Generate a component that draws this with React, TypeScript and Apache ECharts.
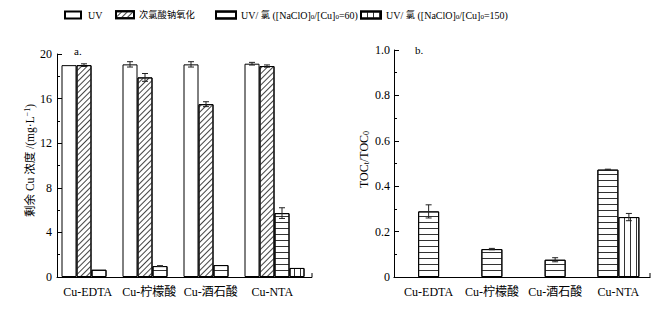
import React, { useEffect, useRef } from 'react';
import * as echarts from 'echarts';

const categories = ['Cu-EDTA', 'Cu-柠檬酸', 'Cu-酒石酸', 'Cu-NTA'];
const seriesNames = [
  'UV',
  '次氯酸钠氧化',
  'UV/ 氯 ([NaClO]0/[Cu]0=60)',
  'UV/ 氯 ([NaClO]0/[Cu]0=150)',
];
// panel a: residual Cu (mg/L)
const cuUV = [19.0, 19.07, 19.07, 19.13];
const cuUVErr = [0, 0.24, 0.24, 0.12];
const cuNaClO = [19.0, 17.9, 15.5, 18.92];
const cuNaClOErr = [0.12, 0.35, 0.22, 0.1];
const cuCl60 = [0.65, 0.98, 1.07, 5.73];
const cuCl60Err = [0, 0.04, 0, 0.48];
const cuCl150 = [null, null, null, 0.81];
const cuCl150Err = [0, 0, 0, 0];
// panel b: TOC_t/TOC_0
const toc60 = [0.289, 0.123, 0.076, 0.473];
const toc60Err = [0.029, 0.003, 0.009, 0.002];
const toc150 = [null, null, null, 0.264];
const toc150Err = [0, 0, 0, 0.016];
const cuTicks = [0, 4, 8, 12, 16, 20];
const tocTicks = [0, 0.2, 0.4, 0.6, 0.8, 1.0];

const FONT = '"Liberation Serif", "Times New Roman", "Noto Sans CJK SC", serif';
const INK = '#000';

const decals: any[] = [
  null,
  { symbol: 'rect', symbolSize: 1, color: '#444', backgroundColor: '#fff', dashArrayX: [1, 0], dashArrayY: [1, 2.2], rotation: -Math.PI / 4 },
  { symbol: 'rect', symbolSize: 1, color: '#333', backgroundColor: '#fff', dashArrayX: [1, 0], dashArrayY: [1, 4.4], rotation: 0 },
  { symbol: 'rect', symbolSize: 1, color: '#333', backgroundColor: '#fff', dashArrayX: [1, 4.3], dashArrayY: [1, 0], rotation: 0 },
];

function itemStyle(k: number) {
  const s: any = { color: '#fff', borderColor: INK, borderWidth: 1 };
  if (decals[k]) s.decal = decals[k];
  return s;
}

function errSeries(xi: number, yi: number, vals: (number | null)[], errs: number[], offset: number) {
  return {
    type: 'custom',
    xAxisIndex: xi,
    yAxisIndex: yi,
    silent: true,
    z: 5,
    encode: { x: 0, y: 1 },
    data: vals.map((v, i) => [i, v == null ? 0 : v, v == null ? 0 : errs[i]]),
    renderItem: (params: any, api: any) => {
      const i = api.value(0);
      const v = api.value(1);
      const e = api.value(2);
      if (!e) return { type: 'group', children: [] };
      const t = api.coord([i, v + e]);
      const b = api.coord([i, v - e]);
      const x = t[0] + offset;
      const style = { stroke: '#222', lineWidth: 1 };
      return {
        type: 'group',
        children: [
          { type: 'line', shape: { x1: x, y1: t[1], x2: x, y2: b[1] }, style },
          { type: 'line', shape: { x1: x - 3, y1: t[1], x2: x + 3, y2: t[1] }, style },
          { type: 'line', shape: { x1: x - 3, y1: b[1], x2: x + 3, y2: b[1] }, style },
        ],
      };
    },
  };
}

export default function App() {
  const ref = useRef<HTMLDivElement>(null);
  useEffect(() => {
    if (!ref.current) return;
    const chart = echarts.init(ref.current, null, { renderer: 'svg' });
    const richSub = {
      sub: { fontSize: 8, fontFamily: FONT, color: INK, padding: [5, 0, 0, 0] },
      sup: { fontSize: 8, fontFamily: FONT, color: INK, padding: [0, 0, 5, 0] },
    };
    const legendRich = {
      sub: { fontSize: 7, fontFamily: FONT, color: INK, padding: [4, 0, 0, 0] },
      cjk: { fontSize: 9.3, fontFamily: FONT, color: INK },
    };
    const catAxis = (gi: number, show = true) => ({
      type: 'category',
      gridIndex: gi,
      data: categories,
      show,
      axisLine: { lineStyle: { color: INK, width: 1 } },
      axisTick: { show: false },
      axisLabel: { color: INK, fontFamily: FONT, fontSize: 12, margin: 9, interval: 0 },
    });
    const valAxisCommon = {
      axisLine: { show: true, lineStyle: { color: INK, width: 1 } },
      axisTick: { show: true, inside: true, length: 5, lineStyle: { color: INK } },
      minorTick: { show: true, splitNumber: 2, length: 3, lineStyle: { color: INK } },
      splitLine: { show: false },
      minorSplitLine: { show: false },
    };
    // left panel: bars live on a hidden axis pair (grid 1) laid over the visible axes (grid 0)
    const leftBars = [cuUV, cuNaClO, cuCl60, cuCl150].map((d, k) => ({
      name: seriesNames[k],
      type: 'bar',
      xAxisIndex: 1,
      yAxisIndex: 1,
      data: d,
      barWidth: 15,
      barGap: '0%',
      itemStyle: itemStyle(k),
    }));
    const leftErrs = [
      errSeries(1, 1, cuUV, cuUVErr, -22.5),
      errSeries(1, 1, cuNaClO, cuNaClOErr, -7.5),
      errSeries(1, 1, cuCl60, cuCl60Err, 7.5),
      errSeries(1, 1, cuCl150 as any, cuCl150Err, 22.5),
    ];
    const single = (i: number) => toc150[i] == null;
    const tocSingle = toc60.map((v, i) => (single(i) ? v : null));
    const tocPair60 = toc60.map((v, i) => (single(i) ? null : v));
    const rightBars = [
      { name: seriesNames[2], type: 'bar', xAxisIndex: 2, yAxisIndex: 2, data: tocSingle, barWidth: 21, itemStyle: itemStyle(2) },
      { name: seriesNames[2], type: 'bar', xAxisIndex: 3, yAxisIndex: 2, data: tocPair60, barWidth: 21, barGap: '0%', itemStyle: itemStyle(2) },
      { name: seriesNames[3], type: 'bar', xAxisIndex: 3, yAxisIndex: 2, data: toc150, barWidth: 21, barGap: '0%', itemStyle: itemStyle(3) },
    ];
    const rightErrs = [
      errSeries(2, 2, tocSingle, toc60Err, 0),
      errSeries(3, 2, tocPair60, toc60Err, -10.5),
      errSeries(3, 2, toc150 as any, toc150Err, 10.5),
    ];
    const cuAxisRange = {
      min: cuTicks[0],
      max: cuTicks[cuTicks.length - 1],
      interval: cuTicks[1] - cuTicks[0],
    };
    const cjkWrap = (s: string) => s.replace(/([\u4e00-\u9fff]+)/g, '{cjk|$1}');
    const legendLeft = [64, 115, 215, 360];
    const legendIconW = [16, 18, 20, 20];
    const legends = seriesNames.map((n, k) => ({
      top: 10,
      left: legendLeft[k],
      padding: 0,
      icon: 'rect',
      itemWidth: legendIconW[k],
      itemHeight: 7,
      selectedMode: false,
      data: [n],
      formatter: (s: string) => cjkWrap(s).replace(/\]0/g, ']{sub|0}'),
      textStyle: { fontFamily: FONT, fontSize: 10, color: INK, rich: legendRich, padding: [0, 0, 0, k === 0 ? 2 : 0] },
    }));
    chart.setOption({
      animation: false,
      backgroundColor: '#fff',
      textStyle: { fontFamily: FONT },
      legend: legends,
      grid: [
        { left: 57, top: 54, width: 246, height: 223 },
        { left: 61, top: 54, width: 244, height: 223 },
        { left: 397, top: 50, width: 253, height: 227 },
      ],
      xAxis: [catAxis(0), catAxis(1, false), catAxis(2), catAxis(2, false)],
      yAxis: [
        {
          type: 'value',
          gridIndex: 0,
          ...cuAxisRange,
          ...valAxisCommon,
          axisLabel: { color: INK, fontFamily: FONT, fontSize: 12, margin: 5 },
          name: '剩余 Cu 浓度 /(mg·L{sup|−1})',
          nameLocation: 'middle',
          nameGap: 21,
          nameTextStyle: { color: INK, fontFamily: FONT, fontSize: 11.5, rich: richSub, padding: [0, 0, 0, 10] },
        },
        { type: 'value', gridIndex: 1, ...cuAxisRange, show: false },
        {
          type: 'value',
          gridIndex: 2,
          offset: 3,
          min: tocTicks[0],
          max: tocTicks[tocTicks.length - 1],
          interval: 0.2,
          ...valAxisCommon,
          axisLabel: {
            color: INK,
            fontFamily: FONT,
            fontSize: 12,
            margin: 4,
            formatter: (v: number) => (v === 0 ? '0' : v.toFixed(1)),
          },
          name: 'TOC{sub|t}/TOC{sub|0}',
          nameLocation: 'middle',
          nameGap: 24,
          nameTextStyle: { color: INK, fontFamily: FONT, fontSize: 12, rich: richSub, padding: [0, 0, 0, 8] },
        },
      ],
      graphic: [
        { type: 'line', shape: { x1: 303, y1: 277.5, x2: 312, y2: 277.5 }, style: { stroke: INK, lineWidth: 1 } },
        { type: 'line', shape: { x1: 312, y1: 277.5, x2: 312, y2: 273 }, style: { stroke: INK, lineWidth: 1 } },
        { type: 'line', shape: { x1: 393.5, y1: 277.5, x2: 397, y2: 277.5 }, style: { stroke: INK, lineWidth: 1 } },
        { type: 'line', shape: { x1: 650, y1: 277.5, x2: 650, y2: 273 }, style: { stroke: INK, lineWidth: 1 } },
        { type: 'text', left: 74, top: 45, style: { text: 'a.', font: `11px ${FONT}`, fill: INK } },
        { type: 'text', left: 415, top: 44, style: { text: 'b.', font: `11px ${FONT}`, fill: INK } },
      ],
      series: [...leftBars, ...leftErrs, ...rightBars, ...rightErrs],
    });
    return () => chart.dispose();
  }, []);
  return <div ref={ref} style={{ position: 'fixed', left: 0, top: 0, width: 667, height: 309 }} />;
}
